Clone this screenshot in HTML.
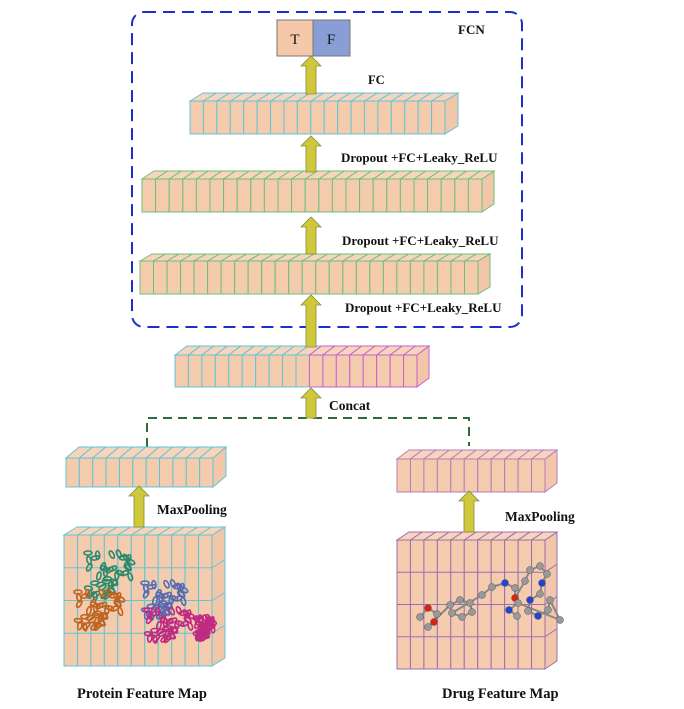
<!DOCTYPE html>
<html><head><meta charset="utf-8"><style>
html,body{margin:0;padding:0;background:#fff;}
svg{display:block}
text{font-family:"Liberation Serif",serif;font-weight:bold;fill:#111}
</style></head><body>
<svg id="s" width="684" height="709" viewBox="0 0 684 709" xmlns="http://www.w3.org/2000/svg">
<rect x="132" y="12" width="390" height="315" rx="12" fill="none" stroke="#1a2fd0" stroke-width="2" stroke-dasharray="12,7"/>
<rect x="277" y="20" width="36" height="36" fill="#f4c8a8" stroke="#777"/>
<rect x="313" y="20" width="37" height="36" fill="#8a9ed6" stroke="#777"/>
<text x="295" y="44" text-anchor="middle" style="font-weight:normal;font-size:15px">T</text>
<text x="331" y="44" text-anchor="middle" style="font-weight:normal;font-size:15px">F</text>
<text x="458" y="34" font-size="13">FCN</text>
<text x="368" y="84" font-size="12.5">FC</text>
<text x="341" y="162" font-size="13">Dropout +FC+Leaky_ReLU</text>
<text x="342" y="245" font-size="13">Dropout +FC+Leaky_ReLU</text>
<text x="345" y="312" font-size="13">Dropout +FC+Leaky_ReLU</text>
<text x="329" y="410" font-size="13.5">Concat</text>
<text x="157" y="514" font-size="13.5">MaxPooling</text>
<text x="505" y="521" font-size="13.5">MaxPooling</text>
<text x="77" y="698" font-size="14.5">Protein Feature Map</text>
<text x="442" y="698" font-size="14.5">Drug Feature Map</text>
<polyline points="147,447 147,418 469,418 469,446" fill="none" stroke="#2e6b3a" stroke-width="2" stroke-dasharray="9,6"/>
<g id="g"></g>
</svg>
<script>
var g=document.getElementById('g'),h='';
function bar(x,y,w,hh,n,dx,dy,col,col2,split,rows){
  var cw=w/n;
  h+='<polygon points="'+(x+w)+','+y+' '+(x+w+dx)+','+(y-dy)+' '+(x+w+dx)+','+(y+hh-dy)+' '+(x+w)+','+(y+hh)+'" fill="#f2c6a8" stroke="'+(split?col2:col)+'" stroke-width="1"/>';
  for(var i=0;i<n;i++){
    var c=(split&&i>=split)?col2:col, cx=x+i*cw;
    h+='<polygon points="'+cx+','+y+' '+(cx+dx)+','+(y-dy)+' '+(cx+cw+dx)+','+(y-dy)+' '+(cx+cw)+','+y+'" fill="#f7d4bb" stroke="'+c+'" stroke-width="1"/>';
    h+='<rect x="'+cx+'" y="'+y+'" width="'+cw+'" height="'+hh+'" fill="#f5cbae" stroke="'+c+'" stroke-width="1"/>';
  }
  if(rows){var c2=col;for(var r=1;r<rows;r++){var yy=y+r*hh/rows;h+='<line x1="'+x+'" y1="'+yy+'" x2="'+(x+w)+'" y2="'+yy+'" stroke="'+c2+'"/><line x1="'+(x+w)+'" y1="'+yy+'" x2="'+(x+w+dx)+'" y2="'+(yy-dy)+'" stroke="'+c2+'"/>';}}
}
function arrow(x,y1,y2){
  h+='<polygon points="'+(x-5)+','+y2+' '+(x-5)+','+(y1+10)+' '+(x-10)+','+(y1+10)+' '+x+','+y1+' '+(x+10)+','+(y1+10)+' '+(x+5)+','+(y1+10)+' '+(x+5)+','+y2+'" fill="#cfc83a" stroke="#8a8a40" stroke-width="0.8"/>';
}
bar(190,101,255,33,19,13,8,'#5fc6d6');
bar(142,179,340,33,25,12,8,'#6cc07a');
bar(140,261,338,33,25,12,7,'#6cc07a');
bar(175,355,242,32,18,12,9,'#5fc6d6','#c462d0',10);
bar(66,458,147,29,11,13,11,'#5fc6d6');
bar(397,459,148,33,11,12,9,'#b77bc0');
bar(64,535,148,131,11,13,8,'#5fc6d6',null,null,4);
bar(397,540,148,129,11,12,8,'#9b6fb0',null,null,4);
arrow(311,56,94);arrow(311,136,172);arrow(311,217,254);arrow(311,295,347);arrow(311,388,418);
arrow(139,486,527);arrow(469,491,532);
function blob(cx,cy,rx,ry,c){for(var k=0;k<40;k++){var a=Math.sin(k*12.9898)*43758.5,b=Math.sin(k*78.233)*12543.1;a=a-Math.floor(a);b=b-Math.floor(b);var px=cx+(a-0.5)*2*rx,py=cy+(b-0.5)*2*ry;h+='<ellipse cx="'+px.toFixed(1)+'" cy="'+py.toFixed(1)+'" rx="4" ry="2" fill="none" stroke="'+c+'" stroke-width="1.6" transform="rotate('+(k*37)+' '+px.toFixed(1)+' '+py.toFixed(1)+')"/>';}}
blob(110,575,22,22,'#2a8a6a');blob(100,610,22,18,'#c0631e');blob(165,600,20,17,'#5a6ab0');blob(170,625,22,15,'#c02a80');blob(205,628,8,10,'#c02a80');
var at=[[420,617,'#999'],[428,608,'#d21'],[437,614,'#999'],[434,622,'#d21'],[428,627,'#999'],[450,605,'#999'],[460,600,'#999'],[470,603,'#999'],[472,612,'#999'],[462,617,'#999'],[452,613,'#999'],[482,595,'#999'],[492,587,'#999'],[505,583,'#2343d8'],[515,588,'#999'],[515,598,'#d21'],[525,581,'#999'],[530,570,'#999'],[540,566,'#999'],[547,574,'#999'],[542,583,'#2343d8'],[540,594,'#999'],[530,600,'#2343d8'],[528,611,'#999'],[538,616,'#2343d8'],[548,610,'#999'],[550,600,'#999'],[560,620,'#999'],[518,603,'#999'],[509,610,'#2343d8'],[517,616,'#999']];
for(var i=1;i<at.length;i++){h+='<line x1="'+at[i-1][0]+'" y1="'+at[i-1][1]+'" x2="'+at[i][0]+'" y2="'+at[i][1]+'" stroke="#888" stroke-width="2"/>';}
at.forEach(function(a){h+='<circle cx="'+a[0]+'" cy="'+a[1]+'" r="3.5" fill="'+a[2]+'" stroke="#555" stroke-width="0.5"/>';});
g.innerHTML=h;
</script>
</body></html>
